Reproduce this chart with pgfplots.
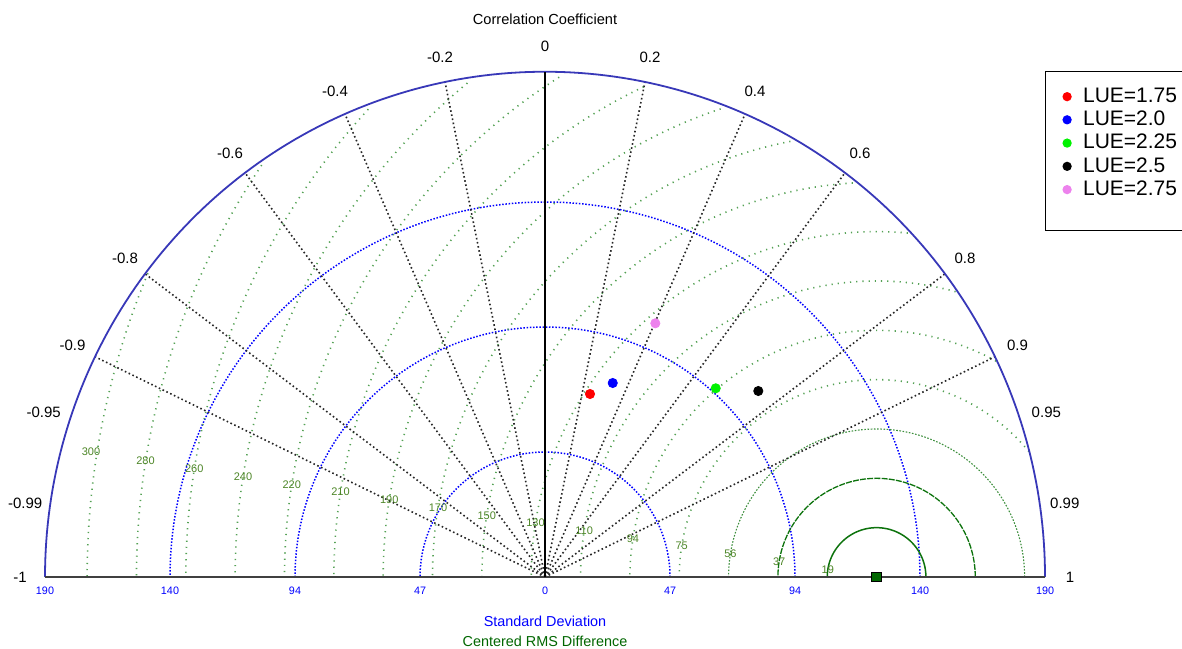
\documentclass[border=0pt]{standalone}
\usepackage{fontspec}
\setmainfont{Liberation Sans}
\usepackage{pgfplots}
\pgfplotsset{compat=1.18}
\definecolor{rmsg}{rgb}{0.33,0.63,0.33}
\definecolor{rmsdark}{rgb}{0.05,0.45,0.05}
\definecolor{rmslabel}{rgb}{0.30,0.52,0.15}
\definecolor{outerc}{rgb}{0.22,0.22,0.72}
\definecolor{pinkp}{rgb}{0.93,0.51,0.93}
\definecolor{greenp}{rgb}{0.0,0.95,0.0}
\definecolor{refg}{rgb}{0.0,0.40,0.0}
\tikzset{
  rmsdot/.style={rmsg, line width=0.8pt, dash pattern=on 0.6pt off 2.5pt},
  stddot/.style={blue, line width=0.75pt, dash pattern=on 0.75pt off 0.85pt},
  cordot/.style={black!85, line width=0.8pt, dash pattern=on 0.8pt off 1.3pt},
  corlab/.style={font=\fontsize{7.5}{8}\selectfont, black},
  rmslab/.style={font=\fontsize{5.5}{6}\selectfont, rmslabel},
  stdlab/.style={font=\fontsize{5.4}{6}\selectfont, blue},
}
\begin{document}
\begin{tikzpicture}
\begin{axis}[
  x=1.315789pt, y=1.315789pt,
  xmin=-190, xmax=190, ymin=0, ymax=190,
  hide axis, clip=false,
  legend style={at={(0.9995,1.0125)}, anchor=north west, draw=black, line width=0.6pt,
    font=\fontsize{10.5}{12}\selectfont, inner xsep=5pt, inner ysep=6.3pt, row sep=-1.2pt,
    /tikz/every odd column/.append style={column sep=4pt}},
  legend cell align=left,
  legend image code/.code={\draw[mark repeat=2,mark phase=2, mark size=2pt] plot coordinates {(0pt,0pt) (6pt,0pt) (12pt,0pt)};},
]
% ---- standard deviation arcs
\addplot[stddot, domain=0:180, samples=121, forget plot] ({47.5*cos(x)},{47.5*sin(x)});
\addplot[stddot, domain=0:180, samples=121, forget plot] ({95*cos(x)},{95*sin(x)});
\addplot[stddot, domain=0:180, samples=121, forget plot] ({142.5*cos(x)},{142.5*sin(x)});
% ---- centred RMS difference circles (centre 126,0)
\addplot[rmsdark, line width=0.75pt, domain=0:180, samples=61, forget plot] ({126+18.75*cos(x)},{18.75*sin(x)});
\addplot[rmsdark, line width=0.65pt, dash pattern=on 3pt off 0.6pt, domain=0:180, samples=81, forget plot] ({126+37.5*cos(x)},{37.5*sin(x)});
\addplot[rmsdark!80, line width=0.55pt, dash pattern=on 0.8pt off 0.8pt, domain=0:180, samples=101, forget plot] ({126+56.25*cos(x)},{56.25*sin(x)});
\addplot[rmsdot, domain=39.43:180, samples=81, forget plot] ({126+75*cos(x)},{75*sin(x)});
\addplot[rmsdot, domain=61.05:180, samples=81, forget plot] ({126+93.75*cos(x)},{93.75*sin(x)});
\addplot[rmsdot, domain=74.52:180, samples=81, forget plot] ({126+112.5*cos(x)},{112.5*sin(x)});
\addplot[rmsdot, domain=84.80:180, samples=81, forget plot] ({126+131.25*cos(x)},{131.25*sin(x)});
\addplot[rmsdot, domain=93.45:180, samples=81, forget plot] ({126+150*cos(x)},{150*sin(x)});
\addplot[rmsdot, domain=101.19:180, samples=81, forget plot] ({126+168.75*cos(x)},{168.75*sin(x)});
\addplot[rmsdot, domain=108.42:180, samples=81, forget plot] ({126+187.5*cos(x)},{187.5*sin(x)});
\addplot[rmsdot, domain=115.42:180, samples=81, forget plot] ({126+206.25*cos(x)},{206.25*sin(x)});
\addplot[rmsdot, domain=122.42:180, samples=81, forget plot] ({126+225*cos(x)},{225*sin(x)});
\addplot[rmsdot, domain=129.64:180, samples=81, forget plot] ({126+243.75*cos(x)},{243.75*sin(x)});
\addplot[rmsdot, domain=137.38:180, samples=81, forget plot] ({126+262.5*cos(x)},{262.5*sin(x)});
\addplot[rmsdot, domain=146.18:180, samples=61, forget plot] ({126+281.25*cos(x)},{281.25*sin(x)});
\addplot[rmsdot, domain=157.37:180, samples=41, forget plot] ({126+300*cos(x)},{300*sin(x)});
% ---- correlation rays
\addplot[cordot, forget plot] coordinates {(0,0) (38,188.1)};
\addplot[cordot, forget plot] coordinates {(0,0) (76,175.9)};
\addplot[cordot, forget plot] coordinates {(0,0) (114,153.6)};
\addplot[cordot, forget plot] coordinates {(0,0) (152,115.2)};
\addplot[cordot, forget plot] coordinates {(0,0) (171,83.7)};
\addplot[cordot, forget plot] coordinates {(0,0) (-38,188.1)};
\addplot[cordot, forget plot] coordinates {(0,0) (-76,175.9)};
\addplot[cordot, forget plot] coordinates {(0,0) (-114,153.6)};
\addplot[cordot, forget plot] coordinates {(0,0) (-152,115.2)};
\addplot[cordot, forget plot] coordinates {(0,0) (-171,83.7)};
% ---- frame
\addplot[outerc, line width=0.9pt, domain=0:180, samples=181, forget plot] ({190*cos(x)},{192*sin(x)});
\addplot[black!75, line width=0.8pt, forget plot] coordinates {(-190,0) (190,0)};
\addplot[black, line width=0.7pt, forget plot] coordinates {(0,0) (0,192)};
% ---- RMS labels
\node[rmslab] at (axis cs:107.48,2.93) {19};
\node[rmslab] at (axis cs:88.96,5.87) {37};
\node[rmslab] at (axis cs:70.44,8.80) {56};
\node[rmslab] at (axis cs:51.92,11.73) {75};
\node[rmslab] at (axis cs:33.40,14.67) {94};
\node[rmslab] at (axis cs:14.88,17.60) {110};
\node[rmslab] at (axis cs:-3.63,20.53) {130};
\node[rmslab] at (axis cs:-22.15,23.46) {150};
\node[rmslab] at (axis cs:-40.67,26.40) {170};
\node[rmslab] at (axis cs:-59.19,29.33) {190};
\node[rmslab] at (axis cs:-77.71,32.26) {210};
\node[rmslab] at (axis cs:-96.23,35.20) {220};
\node[rmslab] at (axis cs:-114.75,38.13) {240};
\node[rmslab] at (axis cs:-133.27,41.06) {260};
\node[rmslab] at (axis cs:-151.79,44.00) {280};
\node[rmslab] at (axis cs:-172.5,47.5) {300};
% ---- correlation labels
\node[corlab] at (axis cs:0,201.8) {0};
\node[corlab] at (axis cs:39.9,197.6) {0.2};
\node[corlab] at (axis cs:79.8,184.7) {0.4};
\node[corlab] at (axis cs:119.7,161.1) {0.6};
\node[corlab] at (axis cs:159.6,121.2) {0.8};
\node[corlab] at (axis cs:179.55,88.2) {0.9};
\node[corlab] at (axis cs:190.5,62.7) {0.95};
\node[corlab] at (axis cs:197.51,28.14) {0.99};
\node[corlab] at (axis cs:199.5,0) {1};
\node[corlab] at (axis cs:-39.9,197.6) {-0.2};
\node[corlab] at (axis cs:-79.8,184.7) {-0.4};
\node[corlab] at (axis cs:-119.7,161.1) {-0.6};
\node[corlab] at (axis cs:-159.6,121.2) {-0.8};
\node[corlab] at (axis cs:-179.55,88.2) {-0.9};
\node[corlab] at (axis cs:-190.5,62.7) {-0.95};
\node[corlab] at (axis cs:-197.51,28.14) {-0.99};
\node[corlab] at (axis cs:-199.5,0) {-1};
% ---- std labels
\node[stdlab] at (axis cs:-190,-5.3) {190};
\node[stdlab] at (axis cs:-142.5,-5.3) {140};
\node[stdlab] at (axis cs:-95,-5.3) {94};
\node[stdlab] at (axis cs:-47.5,-5.3) {47};
\node[stdlab] at (axis cs:0,-5.3) {0};
\node[stdlab] at (axis cs:47.5,-5.3) {47};
\node[stdlab] at (axis cs:95,-5.3) {94};
\node[stdlab] at (axis cs:142.5,-5.3) {140};
\node[stdlab] at (axis cs:190,-5.3) {190};
% ---- titles
\node[font=\fontsize{7.3}{8}\selectfont, black] at (axis cs:0,212.0) {Correlation Coefficient};
\node[font=\fontsize{7.2}{8}\selectfont, blue] at (axis cs:0,-16.7) {Standard Deviation};
\node[font=\fontsize{7.2}{8}\selectfont, refg] at (axis cs:0,-24.3) {Centered RMS Difference};
% ---- reference point
\addplot[only marks, mark=square*, mark size=2.4pt, mark options={fill=refg, draw=black, line width=0.5pt}, forget plot] coordinates {(126,0)};
% ---- data points
\addplot[only marks, mark=*, mark size=2.3pt, red] coordinates {(17.10,69.54)};
\addlegendentry{LUE=1.75}
\addplot[only marks, mark=*, mark size=2.3pt, blue] coordinates {(25.73,73.72)};
\addlegendentry{LUE=2.0}
\addplot[only marks, mark=*, mark size=2.3pt, greenp] coordinates {(64.87,71.71)};
\addlegendentry{LUE=2.25}
\addplot[only marks, mark=*, mark size=2.3pt, black] coordinates {(81.05,70.68)};
\addlegendentry{LUE=2.5}
\addplot[only marks, mark=*, mark size=2.3pt, pinkp] coordinates {(41.92,96.41)};
\addlegendentry{LUE=2.75}
\addlegendimage{empty legend}
\addlegendentry{\rule{0pt}{3.5pt}}
\coordinate (BL) at (axis cs:-207.1,-26.98);
\coordinate (TR) at (axis cs:242.06,219.26);
\end{axis}
\pgfresetboundingbox
\path[use as bounding box] (BL) rectangle (TR);
\end{tikzpicture}
\end{document}
